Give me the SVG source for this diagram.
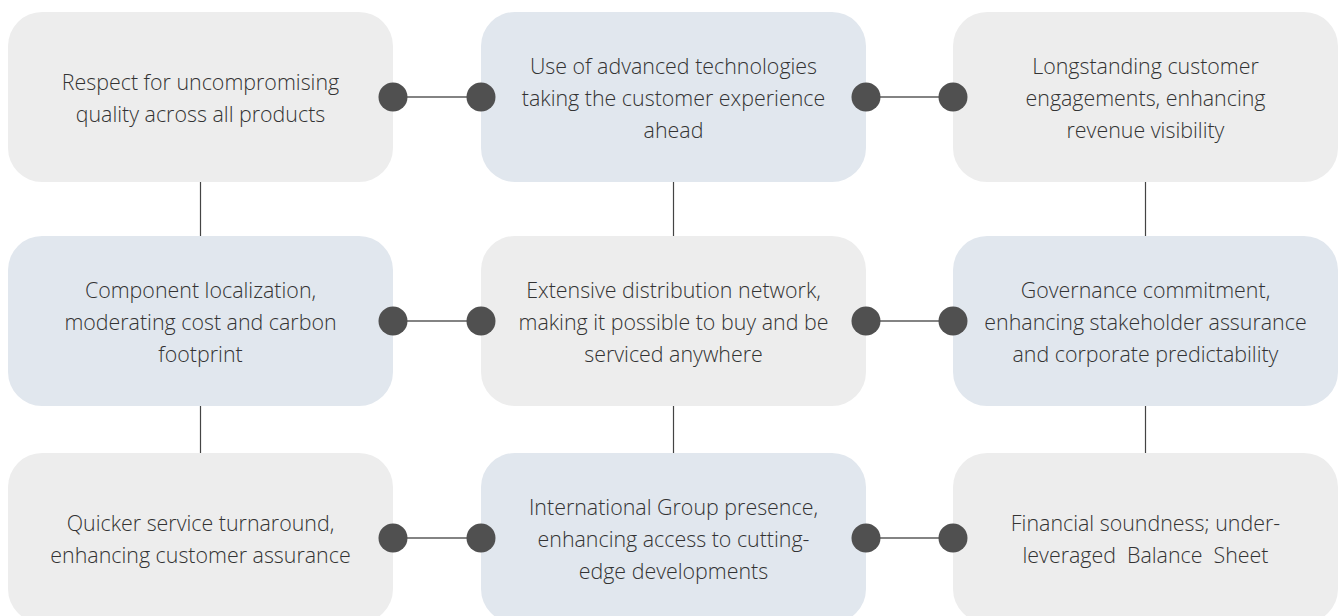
<svg xmlns="http://www.w3.org/2000/svg" width="1344" height="616" viewBox="0 0 1344 616">
<style>
.g{fill:#ededed}
.b{fill:#e1e7ee}
.t{font-family:"Open Sans","Liberation Sans",sans-serif;font-weight:300;font-size:21.4px;fill:#333;text-anchor:middle}
.dot{fill:#505050}
.h{stroke:#5a5a5a;stroke-width:1.5}
.v{stroke:#444;stroke-width:1.2}
</style>
<rect width="1344" height="616" fill="#fff"/>
<g id="connectors">
<line class="h" x1="393" y1="97" x2="481" y2="97"/>
<line class="h" x1="866" y1="97" x2="953" y2="97"/>
<line class="h" x1="393" y1="321" x2="481" y2="321"/>
<line class="h" x1="866" y1="321" x2="953" y2="321"/>
<line class="h" x1="393" y1="538" x2="481" y2="538"/>
<line class="h" x1="866" y1="538" x2="953" y2="538"/>
<line class="v" x1="200.5" y1="182" x2="200.5" y2="236"/>
<line class="v" x1="200.5" y1="406" x2="200.5" y2="453"/>
<line class="v" x1="673.5" y1="182" x2="673.5" y2="236"/>
<line class="v" x1="673.5" y1="406" x2="673.5" y2="453"/>
<line class="v" x1="1145.5" y1="182" x2="1145.5" y2="236"/>
<line class="v" x1="1145.5" y1="406" x2="1145.5" y2="453"/>
</g>
<g id="n1"><rect class="g" x="8" y="12" width="385" height="170" rx="34"/>
<text class="t" x="200.5" y="90">Respect for uncompromising</text><text class="t" x="200.5" y="122">quality across all products</text></g>
<g id="n2"><rect class="b" x="481" y="12" width="385" height="170" rx="34"/>
<text class="t" x="673.5" y="74">Use of advanced technologies</text><text class="t" x="673.5" y="106">taking the customer experience</text><text class="t" x="673.5" y="138">ahead</text></g>
<g id="n3"><rect class="g" x="953" y="12" width="385" height="170" rx="34"/>
<text class="t" x="1145.5" y="74">Longstanding customer</text><text class="t" x="1145.5" y="106">engagements, enhancing</text><text class="t" x="1145.5" y="138">revenue visibility</text></g>
<g id="n4"><rect class="b" x="8" y="236" width="385" height="170" rx="34"/>
<text class="t" x="200.5" y="298">Component localization,</text><text class="t" x="200.5" y="330">moderating cost and carbon</text><text class="t" x="200.5" y="362">footprint</text></g>
<g id="n5"><rect class="g" x="481" y="236" width="385" height="170" rx="34"/>
<text class="t" x="673.5" y="298">Extensive distribution network,</text><text class="t" x="673.5" y="330">making it possible to buy and be</text><text class="t" x="673.5" y="362">serviced anywhere</text></g>
<g id="n6"><rect class="b" x="953" y="236" width="385" height="170" rx="34"/>
<text class="t" x="1145.5" y="298">Governance commitment,</text><text class="t" x="1145.5" y="330">enhancing stakeholder assurance</text><text class="t" x="1145.5" y="362">and corporate predictability</text></g>
<g id="n7"><rect class="g" x="8" y="453" width="385" height="170" rx="34"/>
<text class="t" x="200.5" y="531">Quicker service turnaround,</text><text class="t" x="200.5" y="563">enhancing customer assurance</text></g>
<g id="n8"><rect class="b" x="481" y="453" width="385" height="170" rx="34"/>
<text class="t" x="673.5" y="515">International Group presence,</text><text class="t" x="673.5" y="547">enhancing access to cutting-</text><text class="t" x="673.5" y="579">edge developments</text></g>
<g id="n9"><rect class="g" x="953" y="453" width="385" height="170" rx="34"/>
<text class="t" x="1145.5" y="531">Financial soundness; under-</text><text class="t" x="1145.5" y="563" xml:space="preserve">leveraged  Balance  Sheet</text></g>
<g id="dots">
<circle class="dot" cx="393" cy="97" r="14.5"/><circle class="dot" cx="481" cy="97" r="14.5"/>
<circle class="dot" cx="866" cy="97" r="14.5"/><circle class="dot" cx="953" cy="97" r="14.5"/>
<circle class="dot" cx="393" cy="321" r="14.5"/><circle class="dot" cx="481" cy="321" r="14.5"/>
<circle class="dot" cx="866" cy="321" r="14.5"/><circle class="dot" cx="953" cy="321" r="14.5"/>
<circle class="dot" cx="393" cy="538" r="14.5"/><circle class="dot" cx="481" cy="538" r="14.5"/>
<circle class="dot" cx="866" cy="538" r="14.5"/><circle class="dot" cx="953" cy="538" r="14.5"/>
</g>
</svg>
